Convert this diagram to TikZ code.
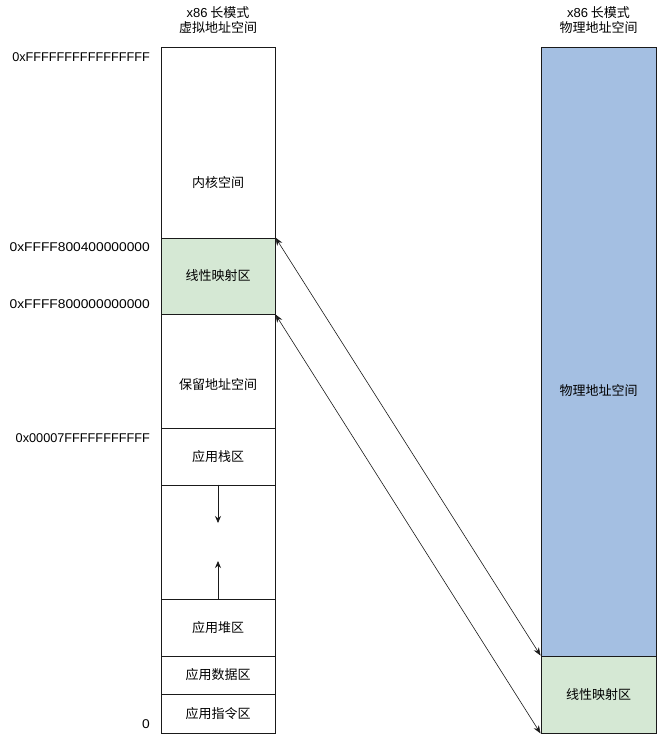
\documentclass[tikz,border=0pt]{standalone}
\usepackage{fontspec}
\setmainfont{Noto Sans CJK SC}
\newfontfamily\lat{Liberation Sans}
\newfontfamily\latw[FakeStretch=1.085]{Liberation Sans}
\usetikzlibrary{arrows.meta}
\definecolor{blueFill}{HTML}{A4BFE2}
\definecolor{greenFill}{HTML}{D5E8D4}
\definecolor{lineCol}{HTML}{1A1A1A}
\tikzset{
  region/.style={draw=lineCol, line width=0.9pt, minimum width=114pt, inner sep=0pt, font=\fontsize{13}{15}\selectfont},
  pregion/.style={region, minimum width=115pt},
  lbl/.style={inner sep=0pt, font=\fontsize{13}{15}\selectfont},
  addr/.style={anchor=east, inner sep=0pt, font=\lat\fontsize{12.7}{14}\selectfont},
  addrw/.style={anchor=east, inner sep=0pt, font=\latw\fontsize{12.7}{14}\selectfont},
  title/.style={align=center, inner sep=0pt, font=\fontsize{13}{15}\selectfont},
  conn/.style={draw=lineCol, line width=0.6pt, {Stealth[length=8pt,width=6pt]}-{Stealth[length=8pt,width=6pt]}},
  growarrow/.style={draw=lineCol, line width=0.8pt, -{Stealth[length=7pt,width=6pt]}}
}
\begin{document}
\begin{tikzpicture}[x=1pt,y=-1pt]
\useasboundingbox (0,0) rectangle (660,739);
% titles
\node[title] (tv) at (218,20) {{\lat x86} 长模式\\虚拟地址空间};
\node[title] (tp) at (598.5,20) {{\lat x86} 长模式\\物理地址空间};
% virtual space
\node[region, minimum height=191pt] (kern) at (218,142.5) {};
\node[lbl] (kernl) at (218,183) {内核空间};
\node[region, minimum height=76pt, fill=greenFill] (lin) at (218,276) {线性映射区};
\node[region, minimum height=114pt] (resv) at (218,371) {};
\node[lbl] (resvl) at (218,385) {保留地址空间};
\node[region, minimum height=57pt] (stack) at (218,456.5) {应用栈区};
\node[region, minimum height=114pt] (gap) at (218,542) {};
\node[region, minimum height=57pt] (heap) at (218,627.5) {应用堆区};
\node[region, minimum height=38pt] (data) at (218,675) {应用数据区};
\node[region, minimum height=39pt] (text) at (218,713.5) {应用指令区};
% physical space
\node[pregion, minimum height=609pt, fill=blueFill] (phys) at (598.5,351.5) {};
\node[lbl] (physl) at (598.5,391) {物理地址空间};
\node[pregion, minimum height=77pt, fill=greenFill] (plin) at (598.5,694.5) {线性映射区};
% address labels
\node[addr] (a1) at (150,57) {0xFFFFFFFFFFFFFFFF};
\node[addrw] (a2) at (150,247) {0xFFFF800400000000};
\node[addrw] (a3) at (150,304) {0xFFFF800000000000};
\node[addr] (a4) at (150,438) {0x00007FFFFFFFFFFF};
\node[addrw] (a5) at (150,724) {0};
% growth arrows
\coordinate (sdown) at (218,523);
\coordinate (hup) at (218,561);
\draw[growarrow] (gap.north) -- (sdown);
\draw[growarrow] (gap.south) -- (hup);
% mapping arrows
\draw[conn] (lin.north east) -- (plin.north west);
\draw[conn] (lin.south east) -- (plin.south west);
\end{tikzpicture}
\end{document}
